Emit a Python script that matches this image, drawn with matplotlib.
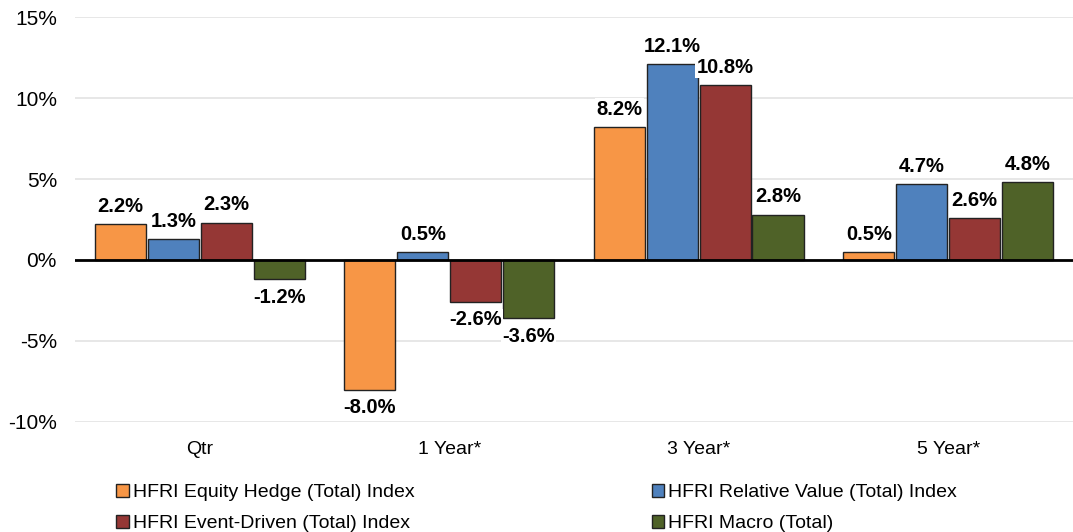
import matplotlib.pyplot as plt
import numpy as np

plt.rcParams['font.family'] = ['Liberation Sans', 'DejaVu Sans']

categories = ['Qtr', '1 Year*', '3 Year*', '5 Year*']
series_names = ['HFRI Equity Hedge (Total) Index', 'HFRI Relative Value (Total) Index',
                'HFRI Event-Driven (Total) Index', 'HFRI Macro (Total)']
equity_hedge = [2.2, -8.0, 8.2, 0.5]
relative_value = [1.3, 0.5, 12.1, 4.7]
event_driven = [2.3, -2.6, 10.8, 2.6]
macro = [-1.2, -3.6, 2.8, 4.8]
colors = ['#F79646', '#4F81BD', '#953735', '#4F6228']

values = [equity_hedge, relative_value, event_driven, macro]

fig = plt.figure(figsize=(10.73, 5.32), dpi=100)
ax = fig.add_axes([0.0699, 0.2068, 0.93, 0.7612])

x = np.arange(len(categories))
step = 0.212
width = 0.205
handles = []
for i, (vals, col, name) in enumerate(zip(values, colors, series_names)):
    pos = x + (i - 1.5) * step
    b = ax.bar(pos, vals, width, color=col, edgecolor='#222222', linewidth=1.0,
               label=name, zorder=3)
    handles.append(b)
    for p, v in zip(pos, vals):
        if v >= 0:
            ax.annotate(f'{v:.1f}%', (p, v), xytext=(0, 6), textcoords='offset points',
                        ha='center', va='bottom', fontsize=14.5, fontweight='bold',
                        bbox=dict(facecolor='white', edgecolor='none', pad=1), zorder=4)
        else:
            ax.annotate(f'{v:.1f}%', (p, v), xytext=(0, -6), textcoords='offset points',
                        ha='center', va='top', fontsize=14.5, fontweight='bold',
                        bbox=dict(facecolor='white', edgecolor='none', pad=1), zorder=4)

ax.set_xlim(-0.5, 3.5)
ax.set_ylim(-10, 15)
ax.set_yticks([-10, -5, 0, 5, 10, 15])
ax.set_yticklabels(['-10%', '-5%', '0%', '5%', '10%', '15%'], fontsize=15)
ax.set_xticks(x)
ax.set_xticklabels(categories, fontsize=14)
ax.tick_params(length=0)
ax.tick_params(axis='x', pad=14)
ax.tick_params(axis='y', pad=13)
ax.grid(axis='y', color='#E3E3E3', linewidth=1.2, zorder=0)
ax.axhline(0, color='black', linewidth=2, zorder=5)
for s in ax.spines.values():
    s.set_visible(False)

# legend filled row by row: reorder for column-major fill
order = [0, 2, 1, 3]
ax.legend([handles[k] for k in order], [series_names[k] for k in order],
          loc='upper left', bbox_to_anchor=(0.024, -0.11), ncol=2, frameon=False,
          fontsize=14, handlelength=0.65, handleheight=0.65, handletextpad=0.2,
          columnspacing=12.2, labelspacing=0.7)

plt.savefig('out.png')
